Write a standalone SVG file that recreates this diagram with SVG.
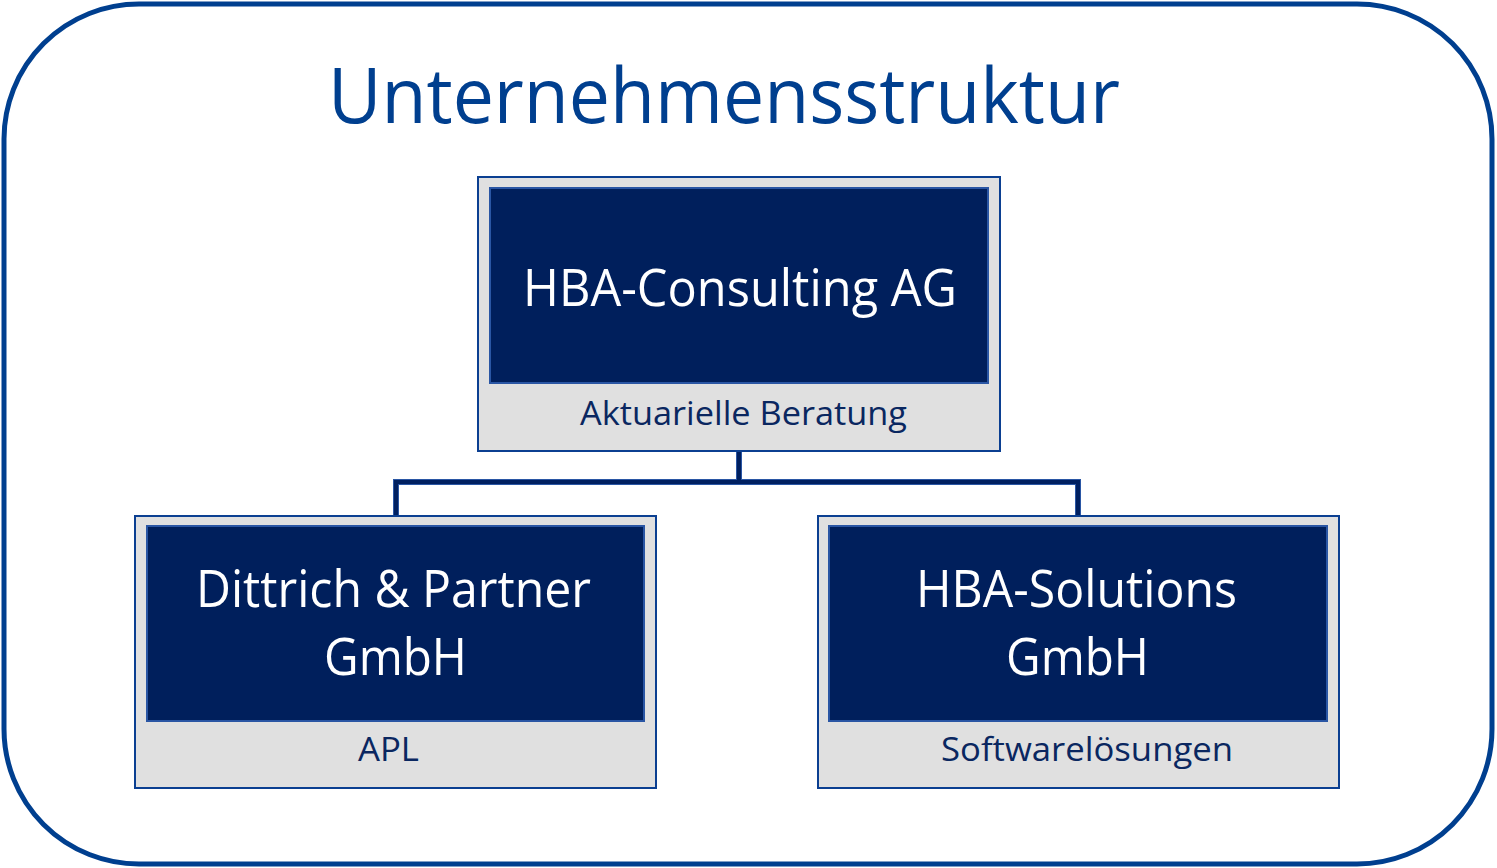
<svg xmlns="http://www.w3.org/2000/svg" width="1497" height="868" viewBox="0 0 1497 868">
<style>
.frame{fill:#ffffff;stroke:#003f8f;stroke-width:5}
.outer{fill:#e0e0e0;stroke:#0b3f91;stroke-width:2}
.inner{fill:#001f5c;stroke:#2a56a4;stroke-width:2}
.main{font-family:"Open Sans","Noto Sans",sans-serif;fill:#ffffff;font-size:52px}
.sub{font-family:"Open Sans","Noto Sans",sans-serif;fill:#0a2760;font-size:32px}
.title{font-family:"Open Sans","Noto Sans",sans-serif;fill:#003f8f;font-size:76px}
.conn{fill:none;stroke:#002060;stroke-width:4}
.connEdge{fill:none;stroke:#2a56a4;stroke-width:6}
</style>
<rect class="frame" x="4" y="4" width="1488" height="860" rx="135" ry="135"/>
<text class="title" x="328" y="123" textLength="792" lengthAdjust="spacingAndGlyphs">Unternehmensstruktur</text>
<g id="connectors">
<path class="connEdge" d="M739 451 V482 M396 516 V482 H1078 V516"/>
<path class="conn" d="M739 451 V482 M396 516 V482 H1078 V516"/>
</g>
<g id="node-hba-consulting">
<rect class="outer" x="478" y="177" width="522" height="274"/>
<rect class="inner" x="490" y="188" width="498" height="195"/>
<text class="main" x="523" y="306" textLength="434" lengthAdjust="spacingAndGlyphs">HBA-Consulting AG</text>
<text class="sub" x="580" y="425" textLength="327" lengthAdjust="spacingAndGlyphs">Aktuarielle Beratung</text>
</g>
<g id="node-dittrich">
<rect class="outer" x="135" y="516" width="521" height="272"/>
<rect class="inner" x="147" y="526" width="497" height="195"/>
<text class="main" x="196" y="607" textLength="395" lengthAdjust="spacingAndGlyphs">Dittrich &amp; Partner</text>
<text class="main" x="324" y="675" textLength="143" lengthAdjust="spacingAndGlyphs">GmbH</text>
<text class="sub" x="358" y="761" textLength="61" lengthAdjust="spacingAndGlyphs">APL</text>
</g>
<g id="node-hba-solutions">
<rect class="outer" x="818" y="516" width="521" height="272"/>
<rect class="inner" x="829" y="526" width="498" height="195"/>
<text class="main" x="916" y="607" textLength="321" lengthAdjust="spacingAndGlyphs">HBA-Solutions</text>
<text class="main" x="1006" y="675" textLength="143" lengthAdjust="spacingAndGlyphs">GmbH</text>
<text class="sub" x="941" y="761" textLength="292" lengthAdjust="spacingAndGlyphs">Softwarelösungen</text>
</g>
</svg>
